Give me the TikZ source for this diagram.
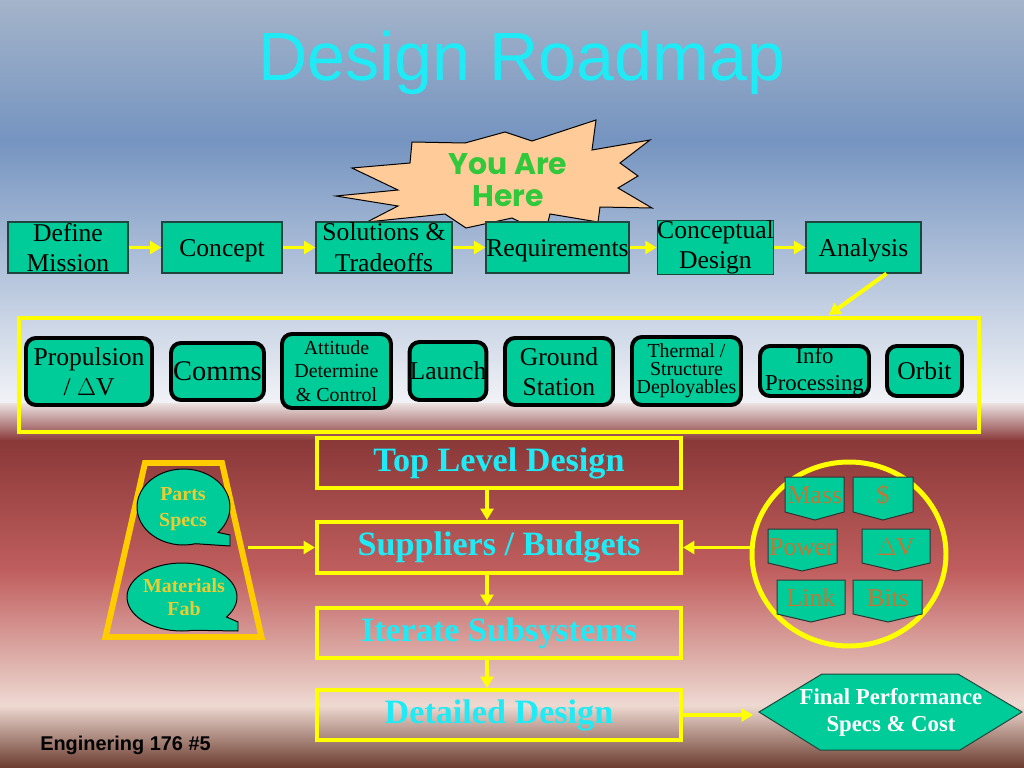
\documentclass[tikz,border=0pt]{standalone}
\usepackage{fontspec}
\setmainfont{Liberation Serif}
\newfontfamily\arialf{Liberation Sans}
\newfontfamily\comicf{Poppins}
\usetikzlibrary{arrows.meta,shapes.geometric}
\newlength{\upx}\setlength{\upx}{0.703pt}
\definecolor{tealbox}{RGB}{0,204,153}
\definecolor{boxedge}{RGB}{30,70,60}
\definecolor{yel}{RGB}{255,255,0}
\definecolor{goldy}{RGB}{255,204,0}
\definecolor{cyanT}{RGB}{30,235,245}
\definecolor{peach}{RGB}{255,204,153}
\definecolor{starg}{RGB}{50,200,60}
\definecolor{calloutT}{RGB}{235,205,50}
\definecolor{pentT}{RGB}{196,118,52}
\definecolor{bgA}{RGB}{164,180,202}
\definecolor{bgB}{RGB}{117,148,192}
\definecolor{bgC}{RGB}{242,243,247}
\definecolor{bgD}{RGB}{236,226,226}
\definecolor{bgE}{RGB}{138,56,56}
\definecolor{bgF}{RGB}{192,94,94}
\definecolor{bgG}{RGB}{238,218,210}
\definecolor{bgH}{RGB}{107,59,46}
\begin{document}
\begin{tikzpicture}[x=0.703pt,y=-0.703pt,
  sz/.style 2 args={minimum width=#1*\upx, minimum height=#2*\upx},
  topbox/.style={draw=boxedge, line width=0.8pt, fill=tealbox, inner sep=0pt, align=center,
    font=\fontsize{18pt}{21.5pt}\selectfont},
  oneline/.style={text height=16pt, text depth=4pt},
  subbox/.style={draw=black, line width=2.8pt, rounded corners=7pt, fill=tealbox, inner sep=0pt, align=center},
  flowbox/.style={draw=yel, line width=2.8pt, inner sep=0pt, text=cyanT,
    font=\bfseries\fontsize{24pt}{26pt}\selectfont},
  arr/.style={draw=yel, line width=2.8pt, -{Triangle[length=8pt,width=9pt]}},
  callout/.style={draw=black, line width=0.7pt, fill=tealbox},
  callouttext/.style={text=calloutT, align=center, inner sep=0pt},
  pent/.style={draw=black!80, line width=0.7pt, fill=tealbox},
  penttext/.style={text=pentT, anchor=base, inner sep=0pt, font=\fontsize{18pt}{20pt}\selectfont}]
\useasboundingbox (0,0) rectangle (1024,768);
% background
\shade[top color=bgA, bottom color=bgB] (0,0) rectangle (1024,141);
\shade[top color=bgB, bottom color=bgC] (0,140) rectangle (1024,404);
\shade[top color=bgD, bottom color=bgE] (0,403) rectangle (1024,441);
\shade[top color=bgE, bottom color=bgF] (0,440) rectangle (1024,571);
\shade[top color=bgF, bottom color=bgG] (0,570) rectangle (1024,706);
\shade[top color=bgG, bottom color=bgH] (0,705) rectangle (1024,768);
% title
\node[anchor=base, inner sep=0pt, text=cyanT, font=\arialf\fontsize{48pt}{50pt}\selectfont] (title) at (522,80) {Design Roadmap};
% starburst
\draw[fill=peach, draw=black, line width=0.7pt, line join=miter]
  (336,196) -- (398,190) -- (352,168) -- (410,163) -- (412,142) -- (465,143) -- (505,132) -- (532,141)
  -- (596,120) -- (592,150) -- (650,140) -- (620,163) -- (638,176) -- (618,188) -- (652,208) -- (600,207)
  -- (598,222) -- (550,214) -- (545,234) -- (512,218) -- (466,228) -- (445,214) -- (367,222) -- (398,206) -- cycle;
\node[text=starg, align=center, inner sep=0pt, font=\comicf\bfseries\fontsize{21pt}{23pt}\selectfont] (here) at (508,180) {You Are\\Here};
% top row
\node[topbox, sz={120}{51}] (dm) at (68,247.5) {Define\\Mission};
\node[topbox, oneline, sz={120}{51}] (cc) at (222,247.5) {Concept};
\node[topbox, sz={136}{51}] (st) at (384,247.5) {Solutions \&\\Tradeoffs};
\node[topbox, oneline, sz={143}{51}] (rq) at (557.5,247.5) {Requirements};
\node[topbox, sz={115}{51}] (cd) at (715.5,247.5) {Conceptual\\Design};
\node[topbox, oneline, sz={115}{51}] (an) at (863.5,247.5) {Analysis};
\draw[arr] (dm.east) -- (cc.west);
\draw[arr] (cc.east) -- (st.west);
\draw[arr] (st.east) -- (rq.west);
\draw[arr] (rq.east) -- (cd.west);
\draw[arr] (cd.east) -- (an.west);
% frame of subsystems
\node[draw=yel, line width=2.8pt, inner sep=0pt, sz={960}{114}] (frame) at (499,375) {};
\coordinate (fa) at (829,315);
\draw[arr] ([xshift=23*\upx]an.south) -- (fa);
% subsystems
\node[subbox, sz={126}{67}, font=\fontsize{18pt}{21pt}\selectfont] (pr) at (89,371.5) {Propulsion\\/ \(\Delta\)V};
\node[subbox, sz={93}{57}, font=\fontsize{20pt}{22pt}\selectfont] (co) at (217.5,371.5) {Comms};
\node[subbox, sz={109}{74}, font=\fontsize{14pt}{16.5pt}\selectfont] (at) at (336.5,371) {Attitude\\Determine\\\& Control};
\node[subbox, sz={76}{58}, font=\fontsize{18pt}{20pt}\selectfont] (la) at (448,371) {Launch};
\node[subbox, sz={108}{67}, font=\fontsize{18pt}{21pt}\selectfont] (gs) at (559,371.5) {Ground\\Station};
\node[subbox, sz={109}{68}, font=\fontsize{14pt}{12.7pt}\selectfont] (th) at (686.5,371) {Thermal /\\Structure\\Deployables};
\node[subbox, sz={109}{50}, font=\fontsize{16pt}{19pt}\selectfont] (ip) at (814.5,371) {Info\\Processing};
\node[subbox, sz={75}{50}, font=\fontsize{18pt}{20pt}\selectfont] (or) at (924.5,371) {Orbit};
% central flow
\node[flowbox, sz={364}{50}] (tl) at (499,463) {Top Level Design};
\node[flowbox, sz={364}{51}] (sb) at (499,547.5) {Suppliers / Budgets};
\node[flowbox, sz={364}{50}] (it) at (499,633) {Iterate Subsystems};
\node[flowbox, sz={364}{50}] (dd) at (499,715) {Detailed Design};
\draw[arr] ([xshift=-12*\upx]tl.south) -- ([xshift=-12*\upx]sb.north);
\draw[arr] ([xshift=-12*\upx]sb.south) -- ([xshift=-12*\upx]it.north);
\draw[arr] ([xshift=-12*\upx]it.south) -- ([xshift=-12*\upx]dd.north);
% left trapezoid with callouts
\draw[draw=goldy, line width=4.2pt, line join=miter] (145,463) -- (222,463) -- (261.5,637) -- (105.5,637) -- cycle;
\draw[callout] (183.5,507) ++(42:46.5 and 38) arc[start angle=42, end angle=-285, x radius=46.5, y radius=38]
  -- (230,546) -- (230,535) -- cycle;
\node[callouttext, font=\bfseries\fontsize{14pt}{18.5pt}\selectfont] (ps) at (183,509) {Parts\\Specs};
\draw[callout] (182,597) ++(36:55 and 34) arc[start angle=36, end angle=-282, x radius=55, y radius=34]
  -- (238,631) -- (238,622) -- cycle;
\node[callouttext, font=\bfseries\fontsize{14pt}{16pt}\selectfont] (mf) at (184,597) {Materials\\Fab};
\coordinate (tz) at (248,547.5);
\draw[arr] (tz) -- (sb.west);
% right budget circle
\node[draw=yel, line width=3.5pt, ellipse, inner sep=0pt, sz={194}{184}] (bc) at (849,554) {};
\draw[arr] (bc.west |- sb.east) -- (sb.east);
\draw[pent] (785,477) -- (844,477) -- (844,512) -- (815,520) -- (785,512) -- cycle;
\draw[pent] (853,477) -- (913,477) -- (913,512) -- (883,520) -- (853,512) -- cycle;
\draw[pent] (768,529) -- (837,529) -- (837,563) -- (802,571) -- (768,563) -- cycle;
\draw[pent] (862,529) -- (930,529) -- (930,563) -- (896,571) -- (862,563) -- cycle;
\draw[pent] (777,580) -- (845,580) -- (845,614) -- (811,622) -- (777,614) -- cycle;
\draw[pent] (853,580) -- (922,580) -- (922,614) -- (888,622) -- (853,614) -- cycle;
\node[penttext] (tmass) at (815,503) {Mass};
\node[penttext] (tcost) at (883,503) {\$};
\node[penttext] (tpow) at (802,555) {Power};
\node[penttext] (tdv) at (896,555) {\(\Delta\)V};
\node[penttext] (tlink) at (811,606) {Link};
\node[penttext] (tbits) at (888,606) {Bits};
% final hexagon
\draw[fill=tealbox, draw=boxedge, line width=0.7pt] (759,712) -- (822,674) -- (958,674) -- (1022,712) -- (960,750) -- (820,750) -- cycle;
\node[text=white, align=center, inner sep=0pt, font=\bfseries\fontsize{16pt}{19pt}\selectfont] (hx) at (891,712) {Final Performance\\Specs \& Cost};
\coordinate (hxl) at (753,715);
\draw[arr] (dd.east) -- (hxl);
% footer
\node[anchor=base west, inner sep=0pt, font=\arialf\bfseries\fontsize{14pt}{16pt}\selectfont] (foot) at (40,750) {Enginering 176 \#5};
\end{tikzpicture}
\end{document}
